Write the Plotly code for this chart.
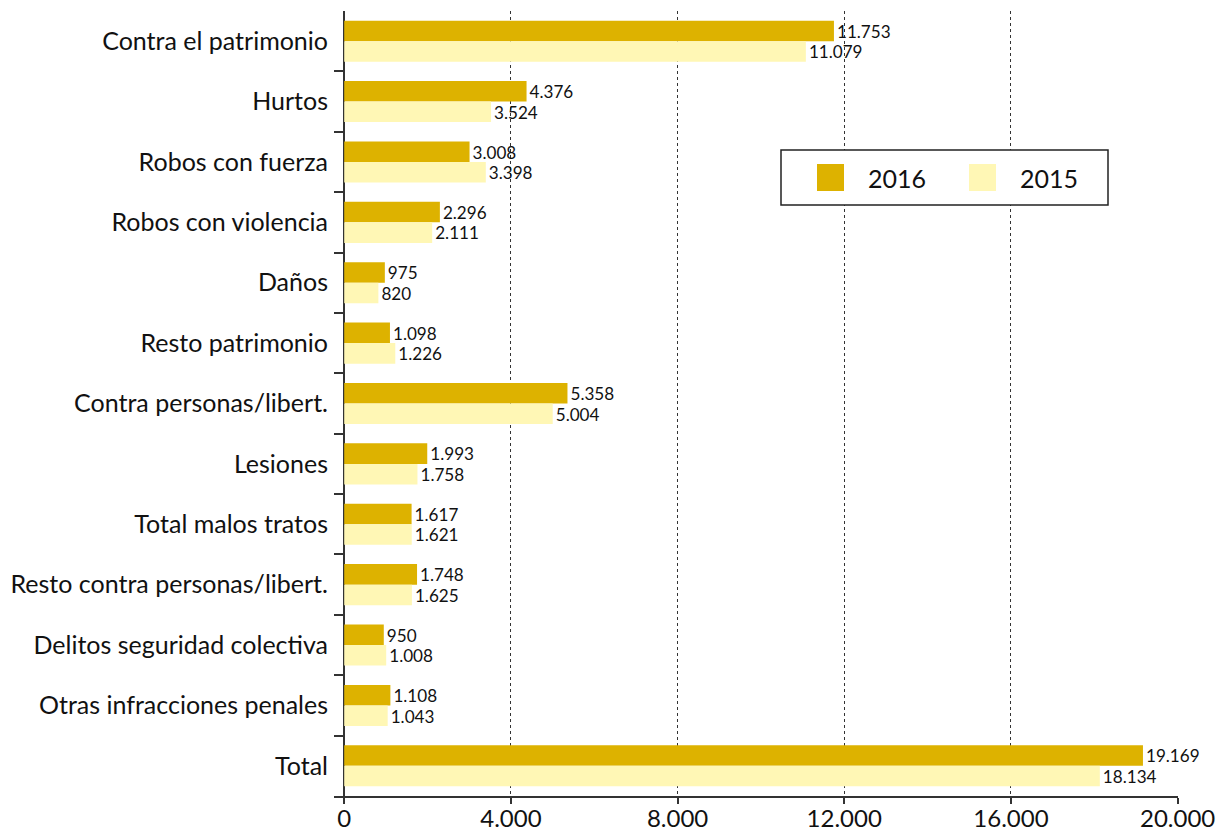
import plotly.graph_objects as go

categories = [
    "Contra el patrimonio", "Hurtos", "Robos con fuerza", "Robos con violencia",
    "Daños", "Resto patrimonio", "Contra personas/libert.", "Lesiones",
    "Total malos tratos", "Resto contra personas/libert.",
    "Delitos seguridad colectiva", "Otras infracciones penales", "Total",
]
values_2016 = [11753, 4376, 3008, 2296, 975, 1098, 5358, 1993, 1617, 1748, 950, 1108, 19169]
values_2015 = [11079, 3524, 3398, 2111, 820, 1226, 5004, 1758, 1621, 1625, 1008, 1043, 18134]
x_ticks = [0, 4000, 8000, 12000, 16000, 20000]
x_ticklabels = ["0", "4.000", "8.000", "12.000", "16.000", "20.000"]

C2016 = "#DDB200"
C2015 = "#FFF7B5"
FONT = "Lato"

fig = go.Figure()
fig.add_trace(go.Bar(
    y=categories, x=values_2016, orientation="h", name="2016",
    marker=dict(color=C2016, line=dict(width=0)),
    texttemplate="%{x:,}", textposition="outside", cliponaxis=False,
    textfont=dict(size=20, color="#111", family=FONT), showlegend=False,
))
fig.add_trace(go.Bar(
    y=categories, x=values_2015, orientation="h", name="2015",
    marker=dict(color=C2015, line=dict(width=0)),
    texttemplate="%{x:,}", textposition="outside", cliponaxis=False,
    textfont=dict(size=20, color="#111", family=FONT), showlegend=False,
))

W, H = 1225, 834
L, R, T, B = 334, 1178, 11, 796
def px(x):
    return (x - L) / (R - L)
def py(y):
    return (B - y) / (B - T)

shapes = [
    dict(type="rect", xref="paper", yref="paper", x0=px(781), x1=px(1108),
         y0=py(205), y1=py(150), line=dict(color="#222", width=1.5), fillcolor="white", layer="above"),
    dict(type="rect", xref="paper", yref="paper", x0=px(817), x1=px(844),
         y0=py(191), y1=py(164), line=dict(width=0), fillcolor=C2016, layer="above"),
    dict(type="rect", xref="paper", yref="paper", x0=px(969), x1=px(996),
         y0=py(191), y1=py(164), line=dict(width=0), fillcolor=C2015, layer="above"),
]
annotations = [
    dict(xref="paper", yref="paper", x=px(866), y=py(178), text="2016", showarrow=False,
         xanchor="left", yanchor="middle", font=dict(size=25, color="#111", family=FONT)),
    dict(xref="paper", yref="paper", x=px(1018), y=py(178), text="2015", showarrow=False,
         xanchor="left", yanchor="middle", font=dict(size=25, color="#111", family=FONT)),
]

fig.update_layout(
    width=W, height=H,
    margin=dict(l=L, r=W - R, t=T, b=H - B, pad=0),
    paper_bgcolor="white", plot_bgcolor="white",
    barmode="group", bargap=0.32, bargroupgap=0,
    separators=",.",
    font=dict(family=FONT, size=25, color="#111"),
    shapes=shapes, annotations=annotations,
    showlegend=False,
)
fig.update_xaxes(
    range=[-245, 20010], tickvals=x_ticks, ticktext=x_ticklabels,
    showgrid=True, gridcolor="#333", griddash="dot", gridwidth=1.2,
    zeroline=True, zerolinecolor="#333", zerolinewidth=1.5,
    showline=True, linecolor="#333", linewidth=1.5,
    ticks="outside", ticklen=6, tickcolor="#333", tickwidth=1.5,
    ticklabelstandoff=-6,
    tickfont=dict(size=24, family=FONT, color="#111"),
    automargin=False,
)
fig.update_yaxes(
    autorange="reversed", showline=False, showgrid=False, zeroline=False,
    ticks="inside", ticklen=10, tickcolor="#333", tickwidth=1.5,
    tickson="boundaries", ticklabelstandoff=5,
    tickfont=dict(size=25, family=FONT, color="#111"),
    automargin=False,
)

fig.write_html(
    "out.html",
    config={"displayModeBar": False},
    post_script="document.body.style.margin='0';document.body.style.overflow='hidden';",
)
